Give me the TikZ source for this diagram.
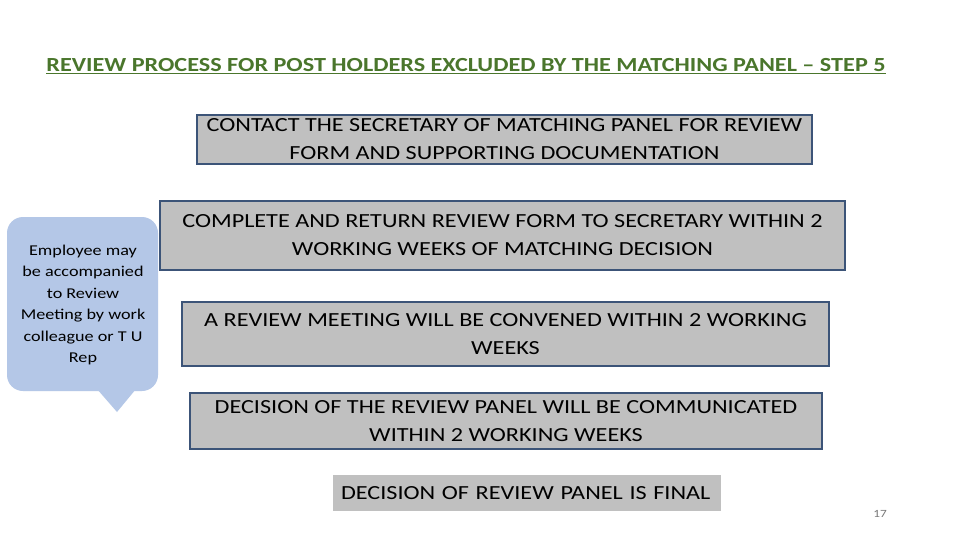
\documentclass[tikz,border=0pt]{standalone}
\usepackage{fontspec}
\setmainfont{Carlito}[FakeStretch=1.21]
\definecolor{titlegreen}{RGB}{74,118,44}
\definecolor{boxgray}{RGB}{192,192,192}
\definecolor{boxborder}{RGB}{60,84,120}
\definecolor{calloutblue}{RGB}{180,199,231}
\definecolor{pagegray}{RGB}{120,120,120}
\begin{document}
\begin{tikzpicture}[x=1pt,y=-1pt,
  stepbox/.style={draw=boxborder, line width=1.6pt, fill=boxgray, inner sep=0pt, align=center, font=\fontsize{20}{28}\selectfont},
  finalbox/.style={fill=boxgray, inner sep=0pt, font=\fontsize{20}{28}\selectfont}]
\useasboundingbox (0,0) rectangle (960,540);
\fill[white] (0,0) rectangle (960,540);
% title
\node[anchor=base, text=titlegreen, font=\fontsize{20}{24}\selectfont\bfseries, inner sep=0pt] (title) at (466,72)
  {\underline{REVIEW PROCESS FOR POST HOLDERS EXCLUDED BY THE MATCHING PANEL – STEP 5}};
% boxes
\node[stepbox, minimum width=615, minimum height=49] (b1) at (504.5,139.5)
  {CONTACT THE SECRETARY OF MATCHING PANEL FOR REVIEW\\FORM AND SUPPORTING DOCUMENTATION};
\node[stepbox, minimum width=685, minimum height=69] (b2) at (502.5,235.5)
  {COMPLETE AND RETURN REVIEW FORM TO SECRETARY WITHIN 2\\WORKING WEEKS OF MATCHING DECISION};
\node[stepbox, minimum width=647, minimum height=64] (b3) at (505.5,334)
  {A REVIEW MEETING WILL BE CONVENED WITHIN 2 WORKING\\WEEKS};
\node[stepbox, minimum width=632, minimum height=56] (b4) at (506,421)
  {DECISION OF THE REVIEW PANEL WILL BE COMMUNICATED\\WITHIN 2 WORKING WEEKS};
\node[finalbox, minimum width=388, minimum height=36, text width=372, align=left] (b5) at (527,493)
  {DECISION OF REVIEW PANEL IS FINAL};
% callout
\fill[calloutblue, rounded corners=16pt]
  (7,217) -- (158,217) -- (158,391) -- (7,391) -- cycle;
\fill[calloutblue] (97,389) -- (117,412) -- (136,389) -- cycle;
\node[align=center, font=\fontsize{15}{21.5}\selectfont, inner sep=0pt] (callout) at (83,305)
  {Employee may\\be accompanied\\to Review\\Meeting by work\\colleague or T U\\Rep};
% page number
\node[text=pagegray, font=\fontsize{11}{13}\selectfont, inner sep=0pt] (page) at (880,514) {17};
\end{tikzpicture}
\end{document}
